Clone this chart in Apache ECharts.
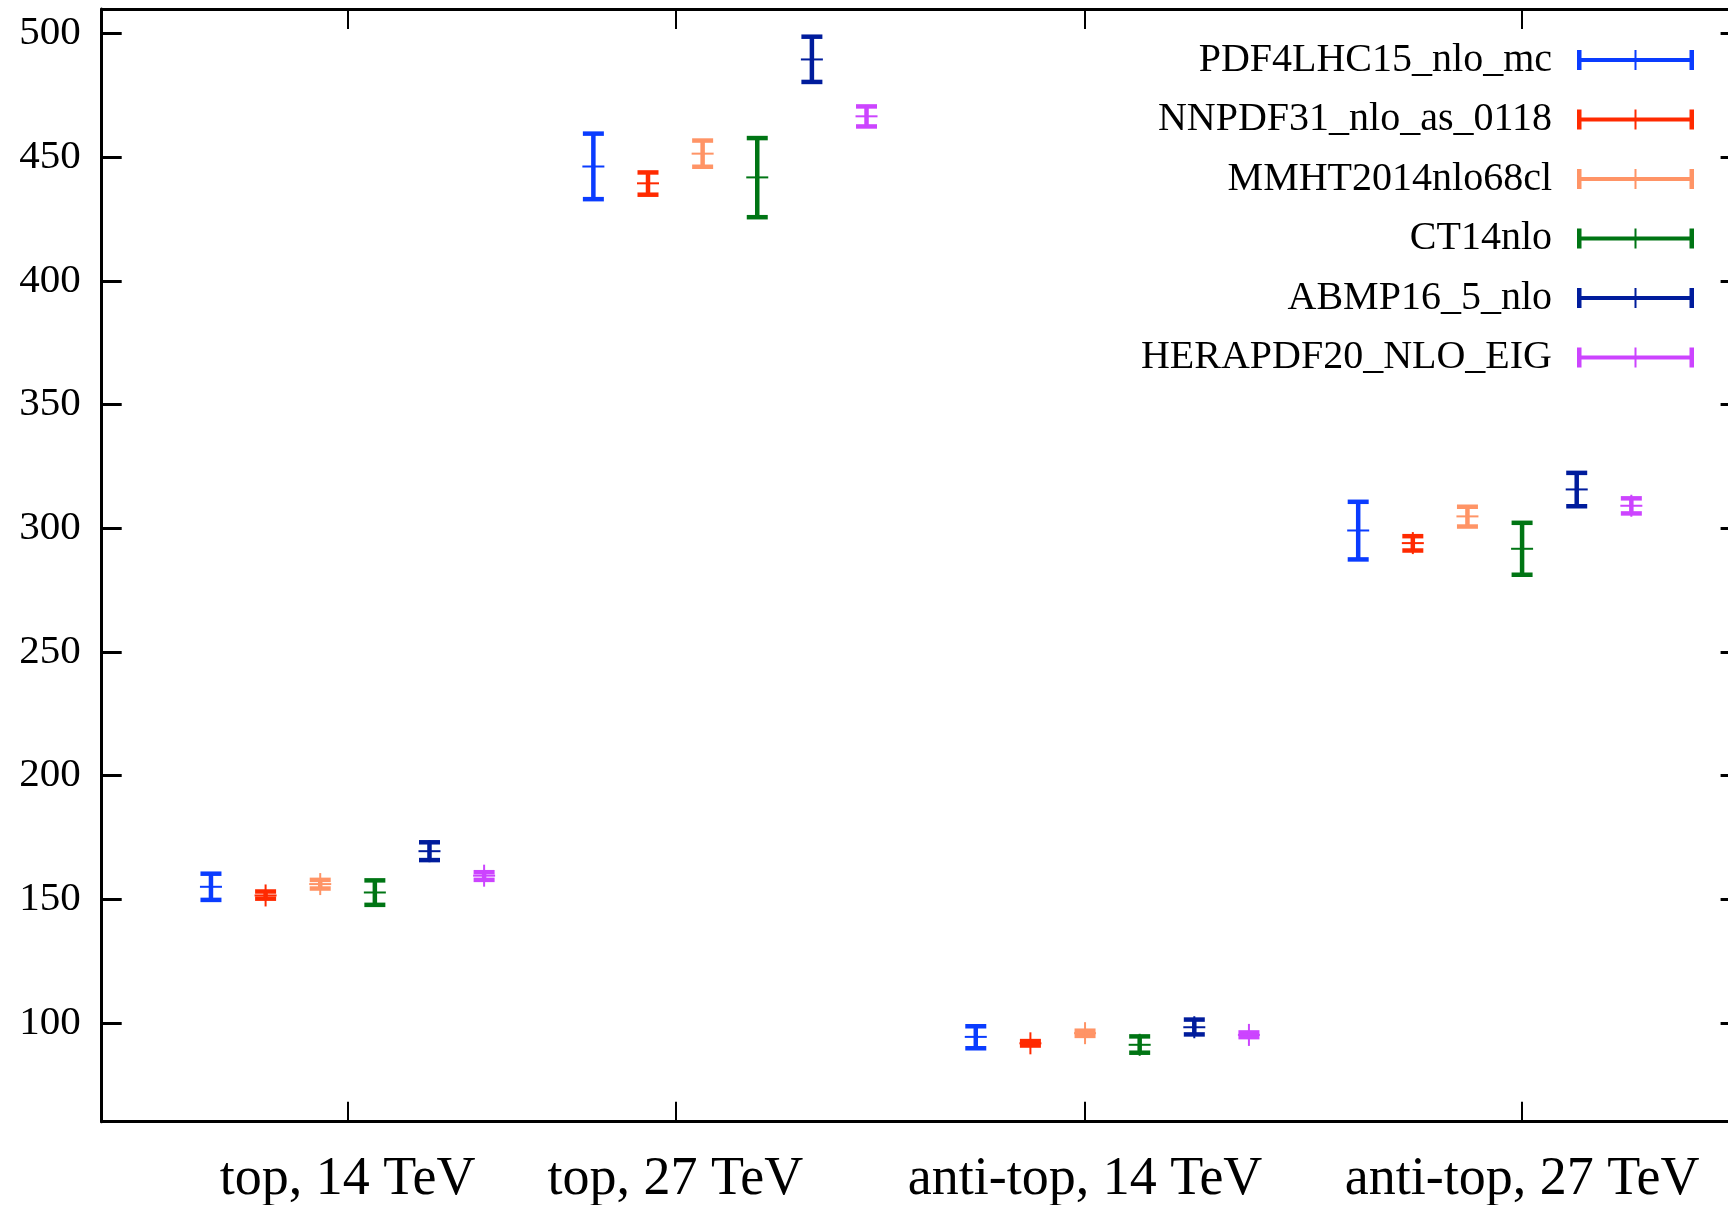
<!DOCTYPE html>
<html>
<head>
<meta charset="utf-8">
<script src="https://cdn.jsdelivr.net/npm/echarts@6/dist/echarts.min.js"></script>
<style>html,body{margin:0;padding:0;background:#fff}#c{width:1728px;height:1205px}</style>
</head>
<body>
<div id="c"></div>
<script>
// ---- data ----
const groupLabels = ['top, 14 TeV', 'top, 27 TeV', 'anti-top, 14 TeV', 'anti-top, 27 TeV'];
const groupTickX = [3.5, 9.5, 17, 25];
const yTickValues = [100, 150, 200, 250, 300, 350, 400, 450, 500];

const pdfNames = ['PDF4LHC15_nlo_mc', 'NNPDF31_nlo_as_0118', 'MMHT2014nlo68cl', 'CT14nlo', 'ABMP16_5_nlo', 'HERAPDF20_NLO_EIG'];
const pdfColors = ['#0a3cff', '#ff2a00', '#ff9466', '#007514', '#001c9c', '#cc44ff'];

const pdf4lhcCentral = [155.0, 446.3, 94.3, 299.1];
const pdf4lhcLow     = [149.7, 433.1, 89.7, 287.4];
const pdf4lhcHigh    = [160.3, 459.6, 98.6, 310.7];

const nnpdfCentral = [151.5, 439.5, 91.7, 294.0];
const nnpdfLow     = [150.2, 434.9, 90.8, 291.0];
const nnpdfHigh    = [153.1, 443.9, 92.6, 296.8];

const mmhtCentral = [156.1, 451.5, 95.8, 304.8];
const mmhtLow     = [154.3, 446.2, 94.7, 300.7];
const mmhtHigh    = [157.8, 456.8, 96.8, 308.7];

const ct14Central = [152.7, 441.9, 91.1, 291.7];
const ct14Low     = [147.7, 425.8, 87.9, 281.2];
const ct14High    = [157.6, 457.8, 94.5, 302.2];

const abmpCentral = [169.4, 489.6, 98.2, 315.7];
const abmpLow     = [165.8, 480.5, 95.3, 308.9];
const abmpHigh    = [173.0, 498.8, 101.3, 322.4];

const heraCentral = [159.5, 466.6, 95.1, 309.1];
const heraLow     = [157.8, 462.5, 94.2, 306.0];
const heraHigh    = [160.9, 470.6, 96.1, 312.1];

const centrals = [pdf4lhcCentral, nnpdfCentral, mmhtCentral, ct14Central, abmpCentral, heraCentral];
const lows = [pdf4lhcLow, nnpdfLow, mmhtLow, ct14Low, abmpLow, heraLow];
const highs = [pdf4lhcHigh, nnpdfHigh, mmhtHigh, ct14High, abmpHigh, heraHigh];

// ---- chart ----
const FONT = 'Liberation Serif';
const chart = echarts.init(document.getElementById('c'), null, {renderer: 'canvas'});

function renderItem(params, api) {
  const x = api.value(0);
  const pc = api.coord([x, api.value(1)]);
  const pl = api.coord([x, api.value(2)]);
  const ph = api.coord([x, api.value(3)]);
  const color = api.visual('color');
  const cx = pc[0];
  const capHalf = 10.5, markHalf = 11;
  return {
    type: 'group',
    children: [
      {type: 'line', shape: {x1: cx, y1: pl[1], x2: cx, y2: ph[1]}, style: {stroke: color, lineWidth: 4.5}},
      {type: 'line', shape: {x1: cx - capHalf, y1: pl[1], x2: cx + capHalf, y2: pl[1]}, style: {stroke: color, lineWidth: 4.5}},
      {type: 'line', shape: {x1: cx - capHalf, y1: ph[1], x2: cx + capHalf, y2: ph[1]}, style: {stroke: color, lineWidth: 4.5}},
      {type: 'line', shape: {x1: cx - markHalf, y1: pc[1], x2: cx + markHalf, y2: pc[1]}, style: {stroke: color, lineWidth: 2}},
      {type: 'line', shape: {x1: cx, y1: pc[1] - markHalf, x2: cx, y2: pc[1] + markHalf}, style: {stroke: color, lineWidth: 2}}
    ]
  };
}

const series = pdfNames.map(function (name, i) {
  const data = groupLabels.map(function (g, gi) {
    return [1 + 7 * gi + i, centrals[i][gi], lows[i][gi], highs[i][gi]];
  });
  return {
    type: 'custom',
    name: name,
    renderItem: renderItem,
    itemStyle: {color: pdfColors[i]},
    encode: {x: 0, y: [1, 2, 3]},
    data: data,
    clip: false
  };
});

const legendIcon = 'path://M0,8H117V12H0Z M0,0H4.5V20H0Z M112.5,0H117V20H112.5Z M57.5,0H59.5V20H57.5Z';

const axisLineStyle = {color: '#000', width: 3};

chart.setOption({
  animation: false,
  backgroundColor: '#fff',
  grid: {left: 101.7, right: -12.6, top: 9, bottom: 83.3, containLabel: false, outerBoundsMode: 'none'},
  xAxis: [
    {
      type: 'value', min: -1, max: 29, position: 'bottom',
      axisLine: {show: true, onZero: false, lineStyle: axisLineStyle},
      axisTick: {show: true, inside: true, length: 20, customValues: groupTickX, lineStyle: {color: '#000', width: 2}},
      axisLabel: {
        show: true, customValues: groupTickX, margin: 31,
        fontFamily: FONT, fontSize: 54, color: '#000',
        formatter: function (v) {
          const idx = groupTickX.indexOf(v);
          return idx >= 0 ? groupLabels[idx] : '';
        }
      },
      splitLine: {show: false}
    },
    {
      type: 'value', min: -1, max: 29, position: 'top',
      axisLine: {show: true, onZero: false, lineStyle: axisLineStyle},
      axisTick: {show: true, inside: true, length: 20, customValues: groupTickX, lineStyle: {color: '#000', width: 2}},
      axisLabel: {show: false},
      splitLine: {show: false}
    }
  ],
  yAxis: [
    {
      type: 'value', min: 60, max: 510, position: 'left',
      axisLine: {show: true, onZero: false, lineStyle: axisLineStyle},
      axisTick: {show: true, inside: true, length: 20, customValues: yTickValues, lineStyle: {color: '#000', width: 3}},
      axisLabel: {show: true, customValues: yTickValues, margin: 21, fontFamily: FONT, fontSize: 41, color: '#000'},
      splitLine: {show: false}
    },
    {
      type: 'value', min: 60, max: 510, position: 'right',
      axisLine: {show: true, onZero: false, lineStyle: axisLineStyle},
      axisTick: {show: true, inside: true, length: 20, customValues: yTickValues, lineStyle: {color: '#000', width: 3}},
      axisLabel: {show: false},
      splitLine: {show: false}
    }
  ],
  legend: {
    orient: 'vertical',
    align: 'right',
    right: 34,
    top: 40,
    padding: 0,
    itemWidth: 117,
    itemHeight: 20,
    itemGap: 19.5,
    selectedMode: false,
    itemStyle: {borderWidth: 0},
    textStyle: {fontFamily: FONT, fontSize: 40, color: '#000', lineHeight: 40, padding: [0, 20, 0, 0]},
    data: pdfNames.map(function (n) { return {name: n, icon: legendIcon}; })
  },
  series: series
});
</script>
</body>
</html>
